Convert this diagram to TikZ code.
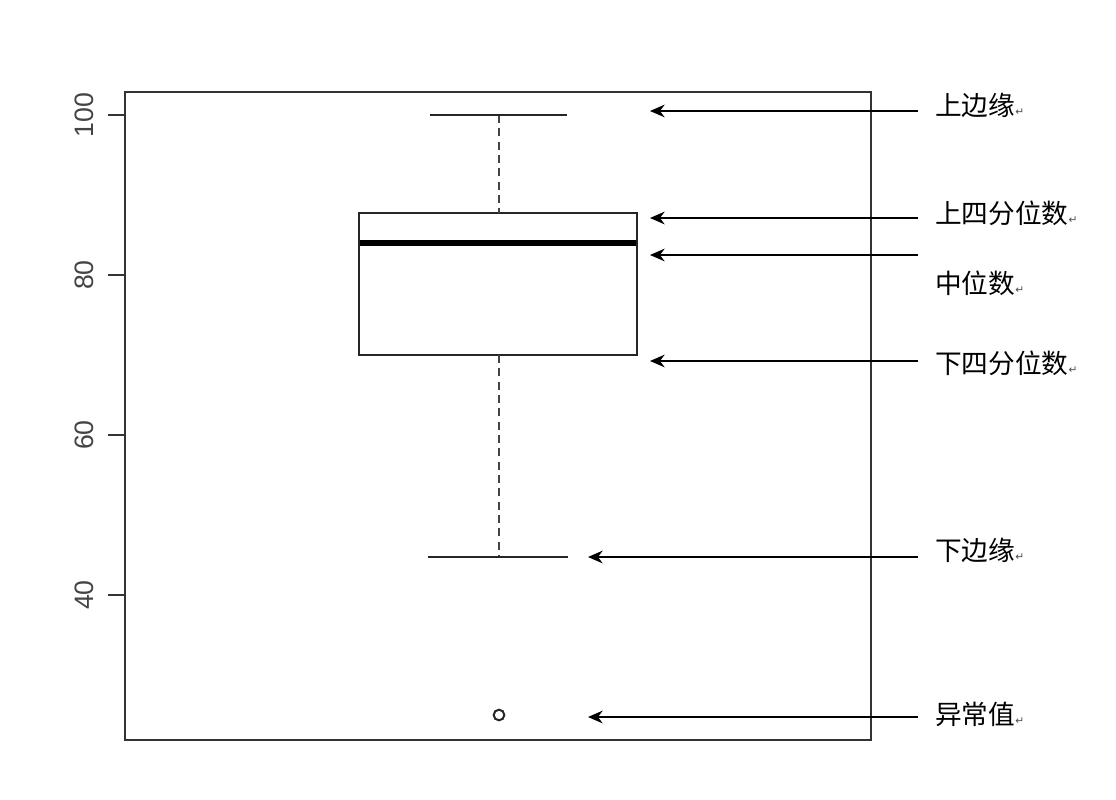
\documentclass[tikz,border=0pt]{standalone}
\usepackage{fontspec}
\setsansfont{Liberation Sans}
\newfontfamily\cjk{Noto Sans CJK SC}
\newfontfamily\symf{DejaVu Sans}
\usetikzlibrary{arrows.meta}
\definecolor{axisgray}{HTML}{333333}
\definecolor{whiskgray}{HTML}{444444}
\tikzset{
  frame/.style={draw=axisgray, line width=1.6pt},
  tick/.style={draw=axisgray, line width=1.6pt},
  ticklabel/.style={rotate=90, font=\sffamily\fontsize{20}{20}\selectfont, text=whiskgray, inner sep=0pt},
  boxline/.style={draw=black!85, line width=1.7pt},
  medianline/.style={draw=black, line width=3.8pt},
  whisk/.style={draw=black!85, line width=1.6pt},
  dashwhisk/.style={draw=whiskgray, line width=1.6pt, dash pattern=on 6pt off 4pt},
  pointer/.style={draw=black, line width=1.5pt, -{Stealth[length=11pt, width=9.5pt]}},
  lbl/.style={anchor=west, inner sep=0pt, font=\cjk\fontsize{20}{20}\selectfont},
}
\newcommand{\pmark}{{\symf\fontsize{8}{8}\selectfont\textcolor{black!70}{↵}}}
\begin{document}
\begin{tikzpicture}[x=0.75pt, y=-0.75pt]
\useasboundingbox (0,0) rectangle (1116,799);
% frame
\draw[frame] (125,92) rectangle (871,740);
% ticks
\foreach \v/\yy in {100/115, 80/275, 60/435, 40/595}{
  \draw[tick] (108,\yy) -- (125,\yy);
  \node[ticklabel] (t\v) at (84,\yy) {\v};
}
% box
\coordinate (wtop) at (499,115);
\coordinate (btop) at (499,213);
\coordinate (bbot) at (499,355);
\coordinate (wbot) at (499,557);
\draw[boxline] (359,213) rectangle (637,355);
\draw[medianline] (360,243) -- (636,243);
\draw[dashwhisk] (wtop) -- (btop);
\draw[dashwhisk] (bbot) -- (wbot);
\draw[whisk] (430,115) -- (567,115);
\draw[whisk] (428,557) -- (568,557);
\node[draw=black!85, line width=1.5pt, circle, minimum size=8pt, inner sep=0pt] (out) at (499,715) {};
% labels
\node[lbl] (l1) at (935,105) {上边缘\pmark};
\node[lbl] (l2) at (935,213) {上四分位数\pmark};
\node[lbl] (l3) at (935,283) {中位数\pmark};
\node[lbl] (l4) at (935,363) {下四分位数\pmark};
\node[lbl] (l5) at (935,550) {下边缘\pmark};
\node[lbl] (l6) at (935,714) {异常值\pmark};
% arrows
\coordinate (a1s) at (918,111); \coordinate (a1e) at (650,111);
\coordinate (a2s) at (918,218); \coordinate (a2e) at (650,218);
\coordinate (a3s) at (918,255); \coordinate (a3e) at (650,255);
\coordinate (a4s) at (918,361); \coordinate (a4e) at (650,361);
\coordinate (a5s) at (918,557); \coordinate (a5e) at (588,557);
\coordinate (a6s) at (918,717); \coordinate (a6e) at (588,717);
\foreach \i in {1,...,6}{ \draw[pointer] (a\i s) -- (a\i e); }
\end{tikzpicture}
\end{document}
